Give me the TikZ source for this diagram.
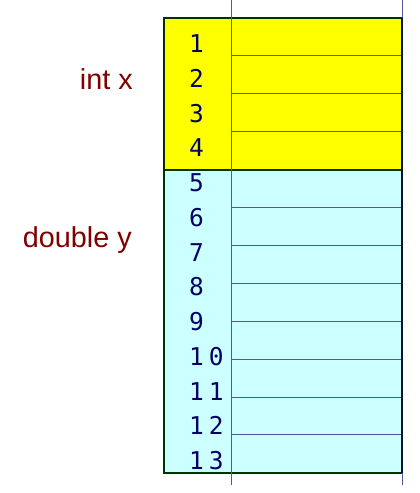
\documentclass[tikz,border=0pt]{standalone}
\usepackage{fontspec}
\usepackage{xcolor}
\usepackage{tikz}
\newfontfamily\numfont[LetterSpace=20]{DejaVu Sans Mono}
\newfontfamily\labelfont{Liberation Sans}
\definecolor{xfill}{HTML}{FFFF00}
\definecolor{yfill}{HTML}{CCFFFF}
\definecolor{framegreen}{HTML}{003300}
\definecolor{edgenavy}{HTML}{001133}
\definecolor{gridblue}{HTML}{5555A0}
\definecolor{numnavy}{HTML}{000066}
\definecolor{labelred}{HTML}{800000}

\begin{document}
\begin{tikzpicture}[
    x=1pt, y=-1pt,
    block/.style={inner sep=0, outer sep=0, minimum width=238pt},
    cell/.style={draw=gridblue, line width=1pt, inner sep=0, outer sep=0, minimum width=171pt, minimum height=37.9pt},
    num/.style={anchor=base west, inner sep=0, text=numnavy, font=\numfont\fontsize{24.5}{27}\selectfont},
    varlabel/.style={anchor=base east, inner sep=0, text=labelred, font=\labelfont\fontsize{28.8}{31}\selectfont},
    frame/.style={draw=framegreen, line width=2pt},
    guide/.style={draw=gridblue, line width=1pt}
]
\useasboundingbox (0,0) rectangle (420,493);

% memory blocks
\node[block, fill=xfill, minimum height=151.6pt] (xblock) at (283,93.8) {};
\node[block, fill=yfill, minimum height=303.2pt] (yblock) at (283,321.2) {};

% cells of the right column
\foreach \i in {1,...,12}
  \node[cell] (cell\i) at (316.5,{18+37.9*\i-18.95}) {};

% outlines
\draw[frame] (xblock.north west) rectangle (xblock.south east);
\draw[frame] (yblock.north west) rectangle (yblock.south east);
\draw[frame, draw=edgenavy] (xblock.north east) -- (yblock.south east);

% guide lines
\coordinate (divtop) at (231,0);
\coordinate (divbot) at (231,485);
\coordinate (edgetop) at (402,0);
\coordinate (edgebot) at (402,485);
\draw[guide] (divtop) -- (divbot);
\draw[guide] (edgetop) -- (xblock.north east);
\draw[guide] (yblock.south east) -- (edgebot);

% byte numbers
\foreach \n in {1,...,13}
  \node[num] (num\n) at (189,{52.5+34.75*(\n-1)}) {\n};

% variable names
\node[varlabel] (intx) at (133,89) {int x};
\node[varlabel] (doubley) at (132,247) {double y};
\end{tikzpicture}
\end{document}
